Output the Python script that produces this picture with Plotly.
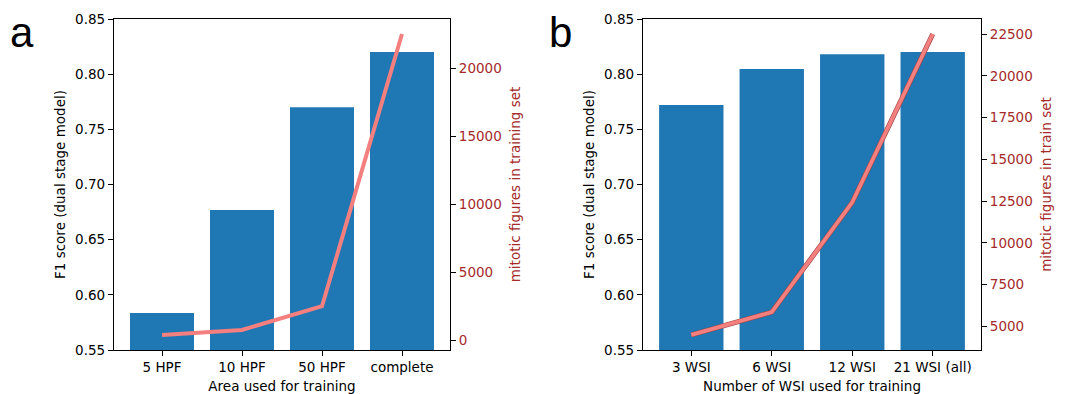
import plotly.graph_objects as go

# ---- data ----
area_cats = ["5 HPF", "10 HPF", "50 HPF", "complete"]
area_f1 = [0.5835, 0.677, 0.770, 0.820]
area_mitoses = [390, 760, 2500, 22500]

wsi_cats = ["3 WSI", "6 WSI", "12 WSI", "21 WSI (all)"]
wsi_f1 = [0.772, 0.8047, 0.818, 0.820]
wsi_mitoses = [4480, 5850, 12420, 22500]

f1_ticks = [0.55, 0.60, 0.65, 0.70, 0.75, 0.80, 0.85]
a_right_ticks = [0, 5000, 10000, 15000, 20000]
b_right_ticks = [5000, 7500, 10000, 12500, 15000, 17500, 20000, 22500]

BAR = "#1f77b4"
LINE = "#f47f7f"
RED = "#a52a2a"
FONT = "DejaVu Sans"
FS = 13.5

def pad(vals):
    lo, hi = min(vals), max(vals)
    m = (hi - lo) * 0.05
    return [lo - m, hi + m]

fig = go.Figure()
fig.add_trace(go.Bar(x=area_cats, y=area_f1, marker_color=BAR, marker_line_width=0,
                     xaxis="x", yaxis="y", showlegend=False))
fig.add_trace(go.Scatter(x=area_cats, y=area_mitoses, mode="lines",
                         line=dict(color=LINE, width=4), xaxis="x", yaxis="y2", showlegend=False))
fig.add_trace(go.Bar(x=wsi_cats, y=wsi_f1, marker_color=BAR, marker_line_width=0,
                     xaxis="x2", yaxis="y3", showlegend=False))
fig.add_trace(go.Scatter(x=wsi_cats, y=wsi_mitoses, mode="lines",
                         line=dict(color="#a04848", width=5), xaxis="x2", yaxis="y4", showlegend=False))
fig.add_trace(go.Scatter(x=wsi_cats, y=wsi_mitoses, mode="lines",
                         line=dict(color=LINE, width=3.8), xaxis="x2", yaxis="y4", showlegend=False))

W, H = 1067, 394
OFF = 8  # page body margin
ax_a = [(114 - OFF) / W, (450 - OFF) / W]
ax_b = [(643 - OFF) / W, (981 - OFF) / W]
ydom = [1 - (350 - OFF) / H, 1 - (19 - OFF) / H]

common_x = dict(showline=True, linecolor="black", linewidth=1.3, mirror=True, automargin=False,
                ticks="outside", ticklen=5, tickcolor="black", showgrid=False,
                range=[-0.6, 3.6], tickfont=dict(family=FONT, size=FS, color="black"),
                title_font=dict(family=FONT, size=FS, color="black"), title_standoff=7)
common_yl = dict(showline=True, linecolor="black", linewidth=1.3, ticks="outside", ticklen=5,
                 automargin=False,
                 tickcolor="black", showgrid=False, zeroline=False, range=[0.55, 0.85],
                 tickvals=f1_ticks, ticktext=[f"{v:.2f}" for v in f1_ticks],
                 tickfont=dict(family=FONT, size=FS, color="black"),
                 title_font=dict(family=FONT, size=FS, color="black"), title_standoff=6,
                 domain=ydom)
common_yr = dict(showline=True, linecolor="black", linewidth=1.3, ticks="outside", ticklen=5,
                 automargin=False,
                 tickcolor="black", showgrid=False, zeroline=False, side="right",
                 tickfont=dict(family=FONT, size=FS, color=RED),
                 title_font=dict(family=FONT, size=FS, color=RED), title_standoff=9)

fig.update_layout(
    width=W, height=H, margin=dict(l=0, r=0, t=0, b=0, autoexpand=False),
    paper_bgcolor="white", plot_bgcolor="white", bargap=0.2,
    font=dict(family=FONT, size=FS),
    xaxis=dict(domain=ax_a, anchor="y", title_text="Area used for training", **common_x),
    yaxis=dict(anchor="x", title_text="F1 score (dual stage model)", **common_yl),
    yaxis2=dict(overlaying="y", anchor="x", range=pad(area_mitoses), tickvals=a_right_ticks,
                ticktext=[str(v) for v in a_right_ticks],
                title_text="mitotic figures in training set", **common_yr),
    xaxis2=dict(domain=ax_b, anchor="y3", title_text="Number of WSI used for training", **common_x),
    yaxis3=dict(anchor="x2", title_text="F1 score (dual stage model)", **common_yl),
    yaxis4=dict(overlaying="y3", anchor="x2", range=pad(wsi_mitoses), tickvals=b_right_ticks,
                ticktext=[str(v) for v in b_right_ticks],
                title_text="mitotic figures in train set", **common_yr),
    annotations=[
        dict(text="a", x=0 / W, y=1 - 24.5 / H, xref="paper", yref="paper", xanchor="left",
             yanchor="middle", showarrow=False, font=dict(family="Liberation Sans", size=42, color="black")),
        dict(text="b", x=539 / W, y=1 - 24.5 / H, xref="paper", yref="paper", xanchor="left",
             yanchor="middle", showarrow=False, font=dict(family="Liberation Sans", size=42, color="black")),
    ],
)

fig.write_html("out.html")
